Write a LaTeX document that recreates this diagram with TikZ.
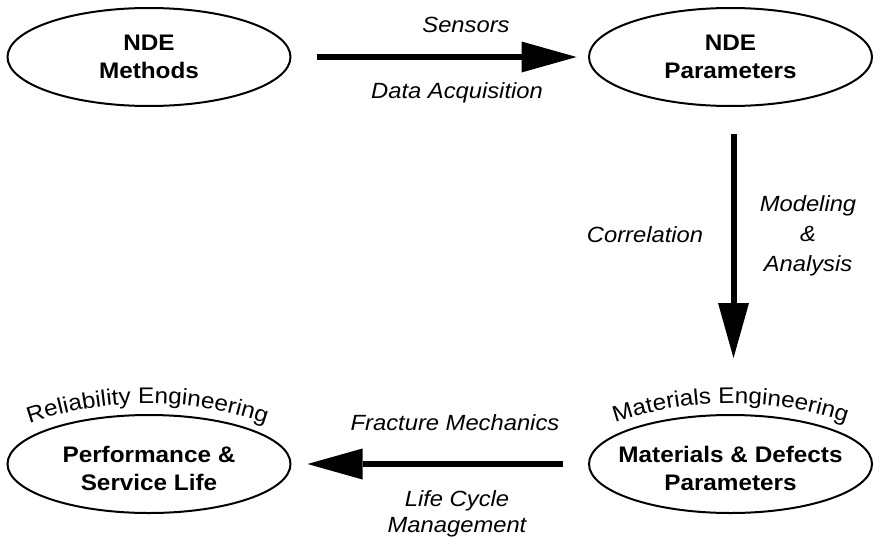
\documentclass[tikz,border=0pt]{standalone}
\usepackage{fontspec}
\setmainfont{Liberation Sans}[FakeStretch=1.08]
\usetikzlibrary{shapes.geometric,arrows.meta,decorations.text}

\begin{document}
\begin{tikzpicture}[x=1pt, y=-1pt,
  stage/.style={ellipse, draw, line width=2pt, minimum width=283pt, minimum height=98pt,
    inner xsep=-20pt, inner ysep=0pt, align=center, font=\bfseries\fontsize{22.5}{28}\selectfont},
  lbl/.style={inner sep=0pt, align=center, font=\itshape\fontsize{22}{30}\selectfont},
  flow/.style={line width=6pt, -{Triangle[length=55pt, width=31pt, line width=0pt]}}]
\useasboundingbox (0,0) rectangle (880,543);

% Stages
\node[stage] (ndeMethods) at (149,57) {NDE\\Methods};
\node[stage] (ndePar) at (730.5,57) {NDE\\Parameters};
\node[stage] (perfLife) at (149,464) {\rule{0pt}{26pt}Performance \&\\Service Life};
\node[stage] (matDefects) at (730.5,464) {\rule{0pt}{26pt}Materials \& Defects\\Parameters};

% Engineering fields (curved over the lower stages)
\path[decorate, decoration={text along path, text align=center,
  text={|\fontsize{22.5}{26}\selectfont|Reliability Engineering}}]
  (27.5,424) .. controls (105.3,396.5) and (189.7,396.5) .. (267.5,424);
\path[decorate, decoration={text along path, text align=center,
  text={|\fontsize{22.5}{26}\selectfont|Materials Engineering}}]
  (610.5,424) .. controls (688.3,396.5) and (772.7,396.5) .. (850.5,424);

% Flow arrows
\draw[flow, shorten <=25pt, shorten >=11.5pt] (ndeMethods) -- (ndePar);
\draw[flow, shorten <=27pt, shorten >=56pt] ([xshift=3pt]ndePar.south) -- ([xshift=3pt]matDefects.north);
\draw[flow, shorten <=25.5pt, shorten >=16pt] (matDefects) -- (perfLife);

% Arrow labels
\node[lbl, anchor=base] (sensorsLbl) at (466,33) {Sensors};
\node[lbl, anchor=base] (daqLbl) at (457,98) {Data Acquisition};
\node[lbl, anchor=base] (corrLbl) at (645,242) {Correlation};
\node[lbl, anchor=north] (modelLbl) at (808,195) {Modeling\\\&\\Analysis};
\node[lbl, anchor=base] (fracLbl) at (455,430) {Fracture Mechanics};
\node[lbl, anchor=north, font=\itshape\fontsize{22}{26}\selectfont] (lcmLbl) at (457,490) {Life Cycle\\Management};

\end{tikzpicture}
\end{document}
